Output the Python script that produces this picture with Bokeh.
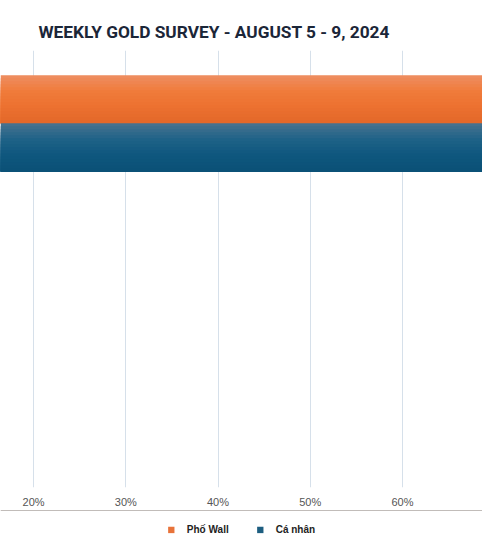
from bokeh.plotting import figure
from bokeh.models import FactorRange, Range1d, Legend, LegendItem, ColumnDataSource, CDSView, BooleanFilter
from bokeh.layouts import column
from bokeh.transform import dodge
from bokeh.embed import file_html
from bokeh.resources import INLINE

# ---- data ----
categories = ["Cao hơn", "Thấp hơn", "Đi ngang"]
series_names = ["Phố Wall", "Cá nhân"]
pho_wall = [76, 12, 12]
ca_nhan = [72, 13, 15]
x_ticks = [20, 30, 40, 50, 60, 70]
tick_labels = ["20%", "30%", "40%", "50%", "60%", "70%"]
title_text = "WEEKLY GOLD SURVEY - AUGUST 5 - 9, 2024"

# ---- style ----
def lerp(c1, c2, t):
    a = [int(c1[i:i + 2], 16) for i in (1, 3, 5)]
    b = [int(c2[i:i + 2], 16) for i in (1, 3, 5)]
    return "#%02x%02x%02x" % tuple(round(a[k] + (b[k] - a[k]) * t) for k in range(3))

def gradient(stops, n):
    out = []
    for i in range(n):
        t = i / (n - 1)
        seg = min(int(t * (len(stops) - 1)), len(stops) - 2)
        lt = t * (len(stops) - 1) - seg
        out.append(lerp(stops[seg], stops[seg + 1], lt))
    return out

N = 16
orange_stops = ["#ee8c5e", "#f07b3a", "#ec7130", "#e3682a"]
blue_stops = ["#44718f", "#1e6287", "#0f577e", "#0b5177"]
legend_colors = {"Phố Wall": "#e8733a", "Cá nhân": "#1d5e80"}
X_START, X_END = 16.42, 68.67

p = figure(
    width=482, height=510,
    y_range=FactorRange(factors=categories[::-1]),
    x_range=Range1d(X_START, X_END),
    output_backend="svg", toolbar_location=None,
    min_border_left=0, min_border_right=0, min_border_top=50, min_border_bottom=23,
    title=title_text,
)
p.outline_line_color = None
p.title.align = "left"
p.title.offset = 38
p.title.text_font = "Roboto"
p.title.text_font_size = "17.3px"
p.title.text_font_style = "bold"
p.title.text_color = "#1b2638"
p.title.standoff = 18

bar_h = 0.33
for name, vals, stops, base in [
    ("Phố Wall", pho_wall, orange_stops, bar_h / 2),
    ("Cá nhân", ca_nhan, blue_stops, -bar_h / 2),
]:
    cols = gradient(stops, N)
    strip = bar_h / N
    src = ColumnDataSource({"cat": categories, "val": vals})
    view = CDSView(filter=BooleanFilter([v > X_START for v in vals]))
    bottom = base - bar_h / 2
    for i, c in enumerate(cols):
        top = base + bar_h / 2 - strip * i
        h = top - bottom
        p.hbar(y=dodge("cat", bottom + h / 2, range=p.y_range), right="val", left=0,
               height=h, source=src, view=view, fill_color=c, line_color=None)

p.yaxis.visible = False
p.ygrid.grid_line_color = None
p.xgrid.grid_line_color = "#d6e0ea"
p.xaxis.ticker = x_ticks
p.xaxis.major_label_overrides = {v: l for v, l in zip(x_ticks, tick_labels)}
p.xaxis.axis_line_color = None
p.xaxis.major_tick_line_color = None
p.xaxis.minor_tick_line_color = None
p.xaxis.major_tick_out = 0
p.xaxis.major_label_standoff = 8
p.xaxis.major_label_text_font = "Liberation Sans"
p.xaxis.major_label_text_font_size = "11px"
p.xaxis.major_label_text_color = "#555555"

# ---- legend strip below ----
p2 = figure(width=482, height=38, x_range=Range1d(0, 1), y_range=Range1d(0, 1),
            output_backend="svg", toolbar_location=None,
            min_border_left=0, min_border_right=0, min_border_top=0, min_border_bottom=0)
p2.axis.visible = False
p2.grid.visible = False
p2.outline_line_color = None

items = []
for name in series_names:
    # swatch proxy placed outside the visible range; only its legend glyph shows
    r = p2.hbar(y=[50], right=[1], left=0, height=1,
                fill_color=legend_colors[name], line_color=None)
    items.append(LegendItem(label=name, renderers=[r]))

legend = Legend(items=items, orientation="horizontal", location="center")
legend.glyph_width = 8
legend.glyph_height = 8
legend.label_standoff = 12
legend.spacing = 27
legend.padding = 10
legend.margin = 0
legend.label_text_font = "Liberation Sans"
legend.label_text_font_size = "10px"
legend.label_text_font_style = "bold"
legend.label_text_color = "#222222"
legend.border_line_color = None
legend.background_fill_alpha = 0
p2.add_layout(legend, "center")

layout = column(p, p2, spacing=0)
open("out.html", "w").write(file_html(layout, INLINE))
